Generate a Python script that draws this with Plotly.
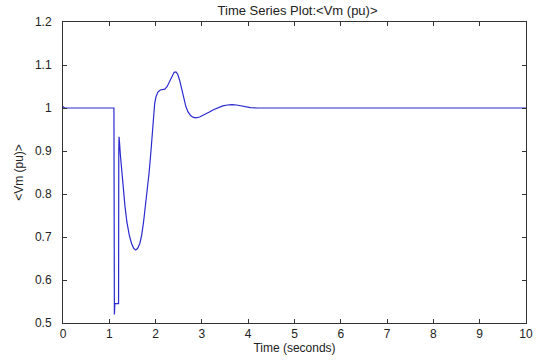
import plotly.graph_objects as go

time_s = [0.0, 0.03, 1.10, 1.10, 1.11, 1.11, 1.12, 1.20, 1.205, 1.21,
          1.22, 1.24, 1.27, 1.30, 1.34, 1.38, 1.43, 1.48, 1.53, 1.57, 1.61, 1.66, 1.70, 1.74,
          1.78, 1.82, 1.86, 1.90, 1.93, 1.96, 1.98, 2.01, 2.05, 2.10, 2.15, 2.20, 2.25, 2.30,
          2.35, 2.40, 2.44, 2.48, 2.52, 2.56, 2.60, 2.65, 2.70, 2.76, 2.82, 2.87, 2.95, 3.05,
          3.15, 3.25, 3.35, 3.45, 3.55, 3.65, 3.75, 3.85, 3.95, 4.05, 4.20, 10.0]
vm_pu = [1.004, 1.0, 1.0, 0.845, 0.84, 0.52, 0.545, 0.545, 0.90, 0.933,
         0.92, 0.89, 0.85, 0.81, 0.77, 0.735, 0.705, 0.685, 0.673, 0.670, 0.673, 0.685, 0.705, 0.735,
         0.77, 0.81, 0.85, 0.90, 0.94, 0.985, 1.01, 1.027, 1.037, 1.042, 1.043, 1.044, 1.05, 1.062,
         1.075, 1.083, 1.084, 1.078, 1.064, 1.045, 1.025, 1.005, 0.991, 0.982, 0.978, 0.977, 0.979, 0.984,
         0.990, 0.996, 1.001, 1.005, 1.007, 1.008, 1.007, 1.005, 1.003, 1.001, 1.0, 1.0]

x_ticks = list(range(0, 11))
y_ticks = [0.5, 0.6, 0.7, 0.8, 0.9, 1.0, 1.1, 1.2]
y_labels = ["0.5", "0.6", "0.7", "0.8", "0.9", "1", "1.1", "1.2"]

fig = go.Figure()
fig.add_trace(go.Scatter(x=time_s, y=vm_pu, mode="lines",
                         line=dict(color="#2a2ad0", width=1.2), showlegend=False))

fam = "Liberation Sans, Arial, sans-serif"
font = dict(family=fam, size=12, color="#222222")
axis_common = dict(showline=True, linecolor="#333333", linewidth=1, mirror="ticks",
                   ticks="inside", ticklen=4, tickcolor="#333333", showgrid=False,
                   zeroline=False, tickfont=font)

fig.update_layout(
    width=544, height=362,
    margin=dict(l=63, r=11, t=22, b=38),
    paper_bgcolor="white", plot_bgcolor="white",
    font=font,
    title=dict(text="Time Series Plot:<Vm (pu)>", x=0.547, xanchor="center",
               y=0.972, yanchor="middle", font=dict(family=fam, size=13, color="#222222")),
    xaxis=dict(range=[0, 10], tickvals=x_ticks, ticktext=[str(t) for t in x_ticks],
               ticklabelstandoff=0,
               title=dict(text="Time (seconds)", standoff=1, font=font), **axis_common),
    yaxis=dict(range=[0.5, 1.2], tickvals=y_ticks, ticktext=y_labels,
               ticklabelstandoff=8,
               title=dict(text="<Vm (pu)>", standoff=8, font=font), **axis_common),
)

fig.write_html("out.html")
